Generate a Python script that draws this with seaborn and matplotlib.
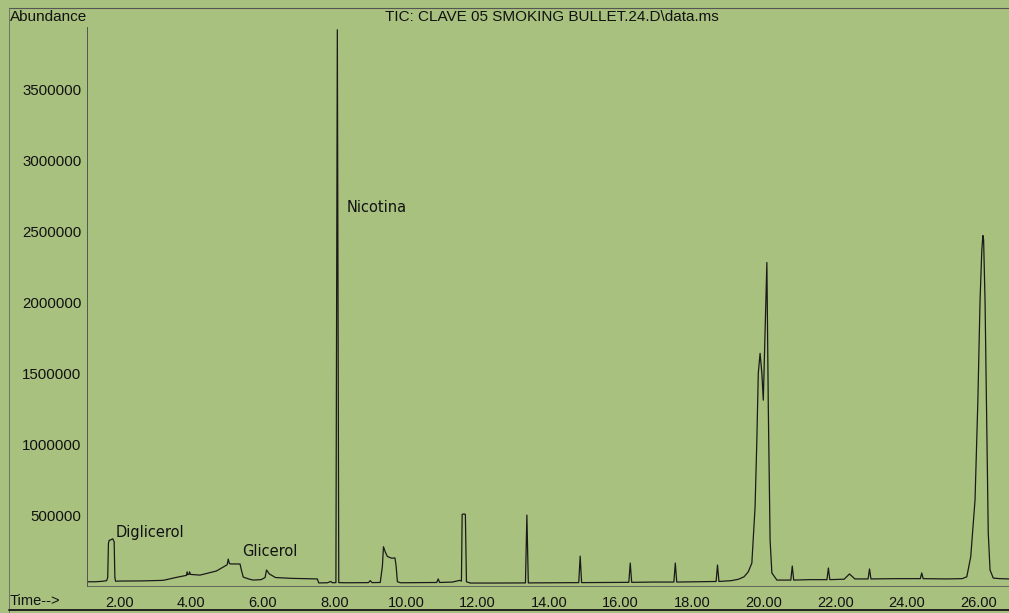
import matplotlib
matplotlib.use("Agg")
import matplotlib.pyplot as plt
from matplotlib.lines import Line2D
from matplotlib.ticker import MultipleLocator, FixedLocator, FuncFormatter
import seaborn as sns
import pandas as pd

# ---- data (time in min, abundance in counts) ----
time_min = [
    1.08, 1.30, 1.50, 1.63, 1.66, 1.68, 1.70, 1.75, 1.80, 1.84, 1.86, 1.88,
    2.00, 2.60, 3.21, 3.60, 3.86, 3.88, 3.90, 3.93, 3.95, 3.97, 4.24, 4.70,
    4.89, 5.00, 5.03, 5.06, 5.08, 5.36, 5.40, 5.45, 5.60, 5.72, 5.95, 6.06,
    6.10, 6.18, 6.35, 6.80, 7.20, 7.52, 7.56, 7.80, 7.90, 7.94, 8.04, 8.08,
    8.12, 8.30, 8.95, 9.00, 9.05, 9.28, 9.34, 9.37, 9.42, 9.48, 9.60, 9.69,
    9.72, 9.76, 9.85, 10.40, 10.86, 10.90, 10.94, 11.30, 11.50, 11.55, 11.57,
    11.62, 11.66, 11.69, 11.80, 12.50, 13.34, 13.38, 13.42, 14.00, 14.83, 14.87,
    14.91, 15.50, 16.23, 16.27, 16.31, 16.90, 17.49, 17.53, 17.57, 18.10, 18.67,
    18.71, 18.75, 19.10, 19.30, 19.45, 19.57, 19.67, 19.76, 19.81, 19.85, 19.90,
    19.95, 19.99, 20.09, 20.13, 20.18, 20.23, 20.37, 20.60, 20.76, 20.80, 20.84,
    21.30, 21.77, 21.81, 21.85, 22.25, 22.40, 22.55, 22.92, 22.96, 23.00, 23.70,
    24.38, 24.42, 24.46, 25.10, 25.55, 25.68, 25.79, 25.91, 25.99, 26.05, 26.10,
    26.13, 26.15, 26.19, 26.24, 26.28, 26.33, 26.42, 26.60, 26.86,
]
abundance = [
    30000, 30000, 33000, 38000, 60000, 300000, 322000, 326000, 333000, 312000, 60000, 34000,
    35000, 36000, 40000, 62000, 75000, 100000, 80000, 82000, 100000, 82000, 77000, 106000,
    134000, 150000, 190000, 160000, 156000, 155000, 110000, 63000, 50000, 42000, 45000, 60000,
    113000, 85000, 60000, 54000, 52000, 50000, 22000, 23000, 32000, 23000, 24000, 3920000,
    24000, 23000, 24000, 38000, 24000, 25000, 140000, 277000, 240000, 208000, 196000, 198000,
    150000, 30000, 23000, 24000, 25000, 50000, 25000, 28000, 40000, 35000, 505000,
    508000, 505000, 30000, 21000, 21000, 22000, 500000, 22000, 23000, 24000, 211000,
    24000, 25000, 26000, 162000, 26000, 28000, 28000, 162000, 28000, 30000, 32000,
    148000, 32000, 38000, 48000, 65000, 100000, 162000, 556000, 1030000, 1500000, 1640000,
    1500000, 1310000, 2280000, 1260000, 324000, 92000, 42000, 42000, 42000, 141000, 42000,
    45000, 45000, 127000, 45000, 48000, 85000, 50000, 50000, 120000, 50000, 52000,
    52000, 92000, 52000, 50000, 52000, 65000, 206000, 605000, 1310000, 2010000, 2370000,
    2470000, 2440000, 2010000, 1080000, 373000, 113000, 56000, 52000, 50000,
]

annot_text = ["Diglicerol", "Glicerol", "Nicotina"]
annot_time = [1.89, 5.41, 8.35]
annot_abund = [380000, 246000, 2670000]

x_ticks = [2, 4, 6, 8, 10, 12, 14, 16, 18, 20, 22, 24, 26]
y_ticks = [500000, 1000000, 1500000, 2000000, 2500000, 3000000, 3500000]

title_text = "TIC: CLAVE 05 SMOKING BULLET.24.D\\data.ms"

df = pd.DataFrame({"time": time_min, "abundance": abundance})

# ---- style ----
BG = "#a9c17f"
INK = "#1a1a1a"
sns.set_style("white")
plt.rcParams["font.family"] = ["Liberation Sans", "DejaVu Sans"]

fig = plt.figure(figsize=(10.09, 6.13), dpi=100, facecolor=BG)
ax = fig.add_axes([0.0862, 0.044, 0.9138, 0.912])
ax.set_facecolor(BG)

sns.lineplot(data=df, x="time", y="abundance", ax=ax, color=INK,
             linewidth=0.9, sort=False, estimator=None)

ax.set_xlim(1.08, 26.86)
ax.set_ylim(0, 3.94e6)
ax.set_xlabel("")
ax.set_ylabel("")

ax.xaxis.set_major_locator(FixedLocator(x_ticks))
ax.xaxis.set_minor_locator(MultipleLocator(0.2))
ax.xaxis.set_major_formatter(FuncFormatter(lambda v, p: f"{v:.2f}"))
ax.yaxis.set_major_locator(FixedLocator(y_ticks))
ax.yaxis.set_minor_locator(MultipleLocator(100000))
ax.yaxis.set_major_formatter(FuncFormatter(lambda v, p: f"{int(v)}"))

ax.tick_params(axis="both", which="major", direction="out", length=3,
               width=0.7, color="#444444", labelsize=10.5, labelcolor="#111111")
ax.tick_params(axis="both", which="minor", direction="out", length=2,
               width=0.6, color="#555555")
ax.tick_params(axis="x", which="major", pad=4, labelsize=10.5)
ax.tick_params(axis="y", which="major", pad=1, labelsize=10.8)

for s in ["top", "right"]:
    ax.spines[s].set_visible(False)
ax.spines["left"].set_color("#555555")
ax.spines["left"].set_linewidth(0.7)
ax.spines["bottom"].set_color("#555555")
ax.spines["bottom"].set_linewidth(0.6)

for t, a, s in zip(annot_time, annot_abund, annot_text):
    ax.text(t, a, s, fontsize=10.5, family=["DejaVu Sans"], color="#111111",
            ha="left", va="center")

fig.text(0.547, 0.972, title_text, ha="center", va="center",
         fontsize=11, color="#111111")
fig.text(0.010, 0.972, "Abundance", ha="left", va="center",
         fontsize=11, color="#111111")
fig.text(0.010, 0.0196, "Time-->", ha="left", va="center",
         fontsize=10.5, color="#111111")

# page frame lines
fig.add_artist(Line2D([0.009, 1.0], [0.987, 0.987], transform=fig.transFigure,
                      color="#555555", linewidth=0.8))
fig.add_artist(Line2D([0.009, 0.009], [0.987, 0.0], transform=fig.transFigure,
                      color="#666666", linewidth=0.6))
fig.add_artist(Line2D([0.009, 1.0], [0.005, 0.005], transform=fig.transFigure,
                      color="#222222", linewidth=1.4))

fig.savefig("out.png", dpi=100, facecolor=BG)
